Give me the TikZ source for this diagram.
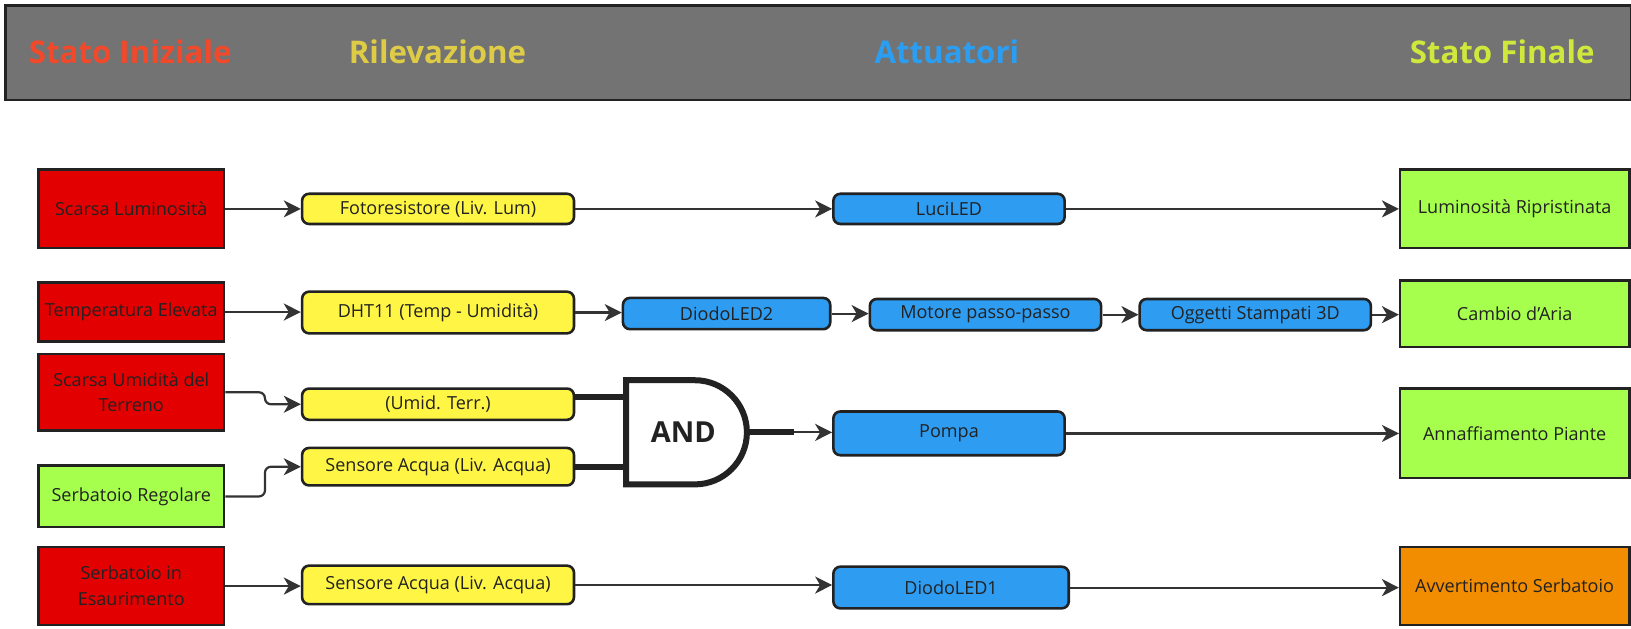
\documentclass[tikz,border=0pt]{standalone}
\usepackage{fontspec}
\setmainfont{Open Sans}
\usetikzlibrary{arrows.meta,calc}
\definecolor{linec}{HTML}{222222}
\definecolor{arrc}{HTML}{333333}
\definecolor{txt}{HTML}{222222}
\definecolor{hdr}{HTML}{737373}
\definecolor{cred}{HTML}{E30000}
\definecolor{cyel}{HTML}{FFF545}
\definecolor{cblue}{HTML}{2E9CF0}
\definecolor{cgreen}{HTML}{A6FF4D}
\definecolor{corange}{HTML}{F28C00}
\definecolor{hred}{HTML}{F2492A}
\definecolor{hyel}{HTML}{DECB46}
\definecolor{hblue}{HTML}{2C9EF2}
\definecolor{hgreen}{HTML}{D0E83C}
\tikzset{
  box/.style={draw=linec, line width=2.6pt, text=txt, font=\fontsize{17.3}{24}\selectfont, align=center, inner sep=0pt},
  sq/.style={box, rectangle},
  pill/.style={box, rounded corners=7pt},
  conn/.style={draw=arrc, line width=2.2pt, -{Stealth[length=17pt,width=17pt,inset=5pt]}},
  thickw/.style={draw=linec, line width=6pt},
  htext/.style={font=\fontsize{30}{34}\bfseries\selectfont},
}
\begin{document}
\begin{tikzpicture}[x=1pt,y=-1pt]
\useasboundingbox (0,0) rectangle (1631,629);
\begin{scope}[scale=1.0417, every node/.style={transform shape}]
% header
\node[draw=linec, fill=hdr, line width=2.7pt, minimum width=1561pt, minimum height=91pt, inner sep=0pt] (hdr) at (785.5,50.5) {};
\node[htext, text=hred] (h1) at (125,50) {Stato Iniziale};
\node[htext, text=hyel] (h2) at (420,50) {Rilevazione};
\node[htext, text=hblue] (h3) at (909,50) {Attuatori};
\node[htext, text=hgreen] (h4) at (1442,50) {Stato Finale};
% initial states
\node[sq, fill=cred, minimum width=178pt, minimum height=75pt] (r1) at (126,200.5) {Scarsa Luminosità};
\node[sq, fill=cred, minimum width=178pt, minimum height=57pt] (r2) at (126,299.5) {Temperatura Elevata};
\node[sq, fill=cred, minimum width=178pt, minimum height=73pt] (r3) at (126,376.5) {Scarsa Umidità del\\Terreno};
\node[sq, fill=cgreen, minimum width=178pt, minimum height=59pt] (r4) at (126,476.5) {Serbatoio Regolare};
\node[sq, fill=cred, minimum width=178pt, minimum height=75pt, font=\fontsize{17.3}{25}\selectfont] (r5) at (126,562.5) {Serbatoio in\\Esaurimento};
% sensors
\node[pill, fill=cyel, minimum width=261pt, minimum height=29pt] (y1) at (420.5,200.5) {Fotoresistore (Liv. Lum)};
\node[pill, fill=cyel, minimum width=261pt, minimum height=40pt] (y2) at (420.5,300) {DHT11 (Temp - Umidità)};
\node[pill, fill=cyel, minimum width=261pt, minimum height=30pt] (y3) at (420.5,388) {(Umid. Terr.)};
\node[pill, fill=cyel, minimum width=261pt, minimum height=36pt] (y4) at (420.5,448) {Sensore Acqua (Liv. Acqua)};
\node[pill, fill=cyel, minimum width=261pt, minimum height=37pt] (y5) at (420.5,561.5) {Sensore Acqua (Liv. Acqua)};
% actuators
\node[pill, fill=cblue, minimum width=222pt, minimum height=29pt] (b1) at (911,200.5) {LuciLED};
\node[pill, fill=cblue, minimum width=199pt, minimum height=30pt] (b2) at (697.5,301) {DiodoLED2};
\node[pill, fill=cblue, minimum width=222pt, minimum height=30pt] (b3) at (946,302) {Motore passo-passo};
\node[pill, fill=cblue, minimum width=222pt, minimum height=30pt] (b4) at (1205,302) {Oggetti Stampati 3D};
\node[pill, fill=cblue, minimum width=222pt, minimum height=42pt] (b5) at (911,416) {Pompa};
\node[pill, fill=cblue, minimum width=226pt, minimum height=40pt] (b6) at (913,564) {DiodoLED1};
% final states
\node[sq, fill=cgreen, minimum width=220pt, minimum height=75pt] (f1) at (1454,200.5) {Luminosità Ripristinata};
\node[sq, fill=cgreen, minimum width=220pt, minimum height=64pt] (f2) at (1454,301) {Cambio d'Aria};
\node[sq, fill=cgreen, minimum width=220pt, minimum height=86pt] (f3) at (1454,416) {Annaffiamento Piante};
\node[sq, fill=corange, minimum width=220pt, minimum height=75pt] (f4) at (1454,562.5) {Avvertimento Serbatoio};
% AND gate
\coordinate (gin1) at (601,381);
\coordinate (gin2) at (601,448);
\coordinate (gout) at (717,415);
\coordinate (gmid) at (762,415);
\draw[thickw] (y3.east |- gin1) -- (gin1);
\draw[thickw] (y4.east) -- (gin2);
\draw[thickw, fill=white] (601,365) -- (667,365) arc[start angle=-90, end angle=90, radius=50] -- (601,465) -- cycle;
\node[font=\fontsize{27.8}{30}\bfseries\selectfont, text=txt] (and) at (656,415) {AND};
\draw[thickw] (gout) -- (gmid);
\draw[conn] (gmid) -- (gmid -| b5.west);
% connectors
\draw[conn] (r1.east) -- (y1.west);
\draw[conn] (r2.east) -- (r2.east -| y2.west);
\draw[conn, rounded corners=6pt] (r3.east) -- ++(38,0) |- (y3.west);
\draw[conn, rounded corners=6pt] (r4.east) -- ++(38,0) |- (y4.west);
\draw[conn] (r5.east) -- (r5.east -| y5.west);
\draw[conn] (y1.east) -- (b1.west);
\draw[conn] (b1.east) -- (f1.west);
\draw[conn] (y2.east) -- (y2.east -| b2.west);
\draw[conn] (b2.east) -- (b2.east -| b3.west);
\draw[conn] (b3.east) -- (b4.west);
\draw[conn] (b4.east) -- (b4.east -| f2.west);
\draw[conn] (b5.east) -- (f3.west);
\draw[conn] (y5.east) -- (y5.east -| b6.west);
\draw[conn] (b6.east) -- (b6.east -| f4.west);
\end{scope}
\end{tikzpicture}
\end{document}
